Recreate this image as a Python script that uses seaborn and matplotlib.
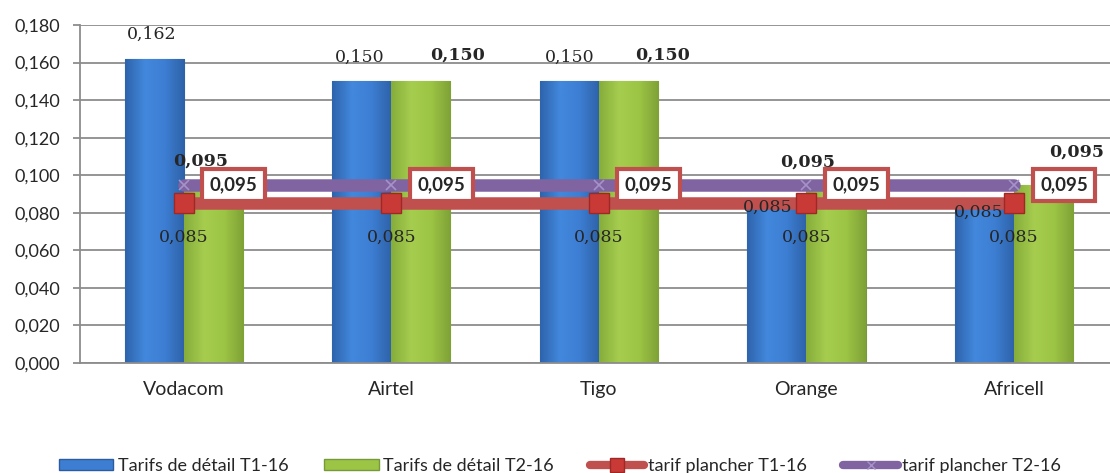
import numpy as np
import pandas as pd
import matplotlib.pyplot as plt
import seaborn as sns
from matplotlib.patches import Patch
from matplotlib.lines import Line2D
from matplotlib.colors import LinearSegmentedColormap
from matplotlib.ticker import FuncFormatter, FixedLocator, MultipleLocator

# donnees
operateurs = ["Vodacom", "Airtel", "Tigo", "Orange", "Africell"]
detail_t1 = [0.162, 0.150, 0.150, 0.085, 0.085]
detail_t2 = [0.095, 0.150, 0.150, 0.095, 0.095]
plancher_t1 = [0.085, 0.085, 0.085, 0.085, 0.085]
plancher_t2 = [0.095, 0.095, 0.095, 0.095, 0.095]
series = ["Tarifs de détail T1-16", "Tarifs de détail T2-16",
          "tarif plancher T1-16", "tarif plancher T2-16"]

bleu, vert, rouge, violet = "#3d7ed3", "#9dc545", "#c0504d", "#8064a2"
gris = "#8c8c8c"

sns.set_theme(style="white")
plt.rcParams["font.family"] = ["Lato", "DejaVu Sans"]


def fr(v):
    return f"{v:.3f}".replace(".", ",")


df = pd.DataFrame({
    "operateur": operateurs * 2,
    "tarif": detail_t1 + detail_t2,
    "serie": [series[0]] * len(operateurs) + [series[1]] * len(operateurs),
})

fig = plt.figure(figsize=(11.1, 4.73), dpi=100)
ax = fig.add_axes([0.072, 0.233, 0.935, 0.714])

sns.barplot(data=df, x="operateur", y="tarif", hue="serie", palette=[bleu, vert],
            width=0.57, gap=0, saturation=1, errorbar=None, legend=False, ax=ax, zorder=2)

# petit degrade horizontal sur les barres (effet relief)
degrades = [
    LinearSegmentedColormap.from_list("b", ["#2f64ad", "#4288dc", "#3d7ed3", "#2e62a8"]),
    LinearSegmentedColormap.from_list("v", ["#86ad3a", "#a6cd4e", "#9dc545", "#7fa237"]),
]
grad = np.linspace(0, 1, 64).reshape(1, -1)
for cont, cmap, ec in zip(ax.containers, degrades, ["#2c5c9e", "#76993a"]):
    for r in cont:
        r.set_edgecolor(ec)
        r.set_linewidth(0.8)
        x0, w, h = r.get_x(), r.get_width(), r.get_height()
        im = ax.imshow(grad, cmap=cmap, aspect="auto", extent=(x0, x0 + w, 0, h),
                       zorder=2.1, interpolation="bicubic")
        im.set_clip_path(r)

pos = np.arange(len(operateurs))
ax.plot(pos, plancher_t2, color=violet, lw=9, solid_capstyle="round", zorder=3,
        marker="x", ms=7, mec="#a592c8", mew=1.2)
ax.plot(pos, plancher_t1, color=rouge, lw=9, solid_capstyle="butt", zorder=3.5,
        marker="s", ms=14.5, mfc="#c93a37", mec="#9e2826", mew=1)

px = 0.72  # pixels -> points
serif = ["DejaVu Serif"]

# etiquettes des barres
off_bleu = [(-2, 25), (-2, 24), (0, 24), (-9, -4), (-6, -9)]
off_vert = [(-13, 23), (37, 26), (34, 26), (-28, 22), (33, 32)]
for r, (dx, dy) in zip(ax.containers[0], off_bleu):
    ax.annotate(fr(r.get_height()), (r.get_x() + r.get_width() / 2, r.get_height()),
                xytext=(dx * px, dy * px), textcoords="offset points",
                ha="center", va="center", fontsize=12.5, family=serif, zorder=4)
for r, (dx, dy) in zip(ax.containers[1], off_vert):
    ax.annotate(fr(r.get_height()), (r.get_x() + r.get_width() / 2, r.get_height()),
                xytext=(dx * px, dy * px), textcoords="offset points",
                ha="center", va="center", fontsize=12.5, family=serif,
                fontweight="bold", zorder=4)

# etiquettes des lignes
for i, v in enumerate(plancher_t1):
    ax.annotate(fr(v), (i, v), xytext=(0, -34 * px), textcoords="offset points",
                ha="center", va="center", fontsize=12.5, family=serif, zorder=4)
for i, v in enumerate(plancher_t2):
    ax.annotate(fr(v), (i, v), xytext=(50 * px, 0), textcoords="offset points",
                ha="center", va="center", fontsize=13.5, fontweight="bold", zorder=6,
                bbox=dict(boxstyle="square,pad=0.4", fc="white", ec=rouge, lw=3))

# axes
ax.set_xlim(-0.5, len(operateurs) - 0.5)
ax.set_ylim(0, 0.18)
ax.yaxis.set_major_locator(MultipleLocator(0.02))
ax.yaxis.set_major_formatter(FuncFormatter(lambda v, p: fr(v)))
ax.grid(axis="y", color=gris, lw=1.3, zorder=0)
ax.set_axisbelow(True)
for s in ["top", "right"]:
    ax.spines[s].set_visible(False)
for s in ["left", "bottom"]:
    ax.spines[s].set_color(gris)
    ax.spines[s].set_linewidth(1.3)
ax.set_xlabel("")
ax.set_ylabel("")
ax.xaxis.set_minor_locator(FixedLocator(np.arange(-0.5, len(operateurs), 1.0)))
ax.tick_params(axis="x", which="major", length=0, pad=13, labelsize=14)
ax.tick_params(axis="x", which="minor", length=5, width=1.3, color=gris, direction="out")
ax.tick_params(axis="y", length=5, width=1.3, color=gris, direction="out", pad=9, labelsize=13, left=True)

# legende
handles = [
    Patch(facecolor=bleu, edgecolor="#2c5c9e"),
    Patch(facecolor=vert, edgecolor="#76993a"),
    Line2D([], [], color=rouge, lw=6, marker="s", ms=10, mfc="#c93a37", mec="#9e2826", solid_capstyle="round"),
    Line2D([], [], color=violet, lw=6, marker="x", ms=6, mec="#a592c8", solid_capstyle="round"),
]
fig.legend(handles, series, loc="center", bbox_to_anchor=(0.5045, 1 - 466 / 473), ncol=4,
           frameon=False, fontsize=13, handlelength=3.0, handleheight=0.55,
           handletextpad=0.25, columnspacing=2.0, numpoints=1)

fig.savefig("out.png", dpi=100)
